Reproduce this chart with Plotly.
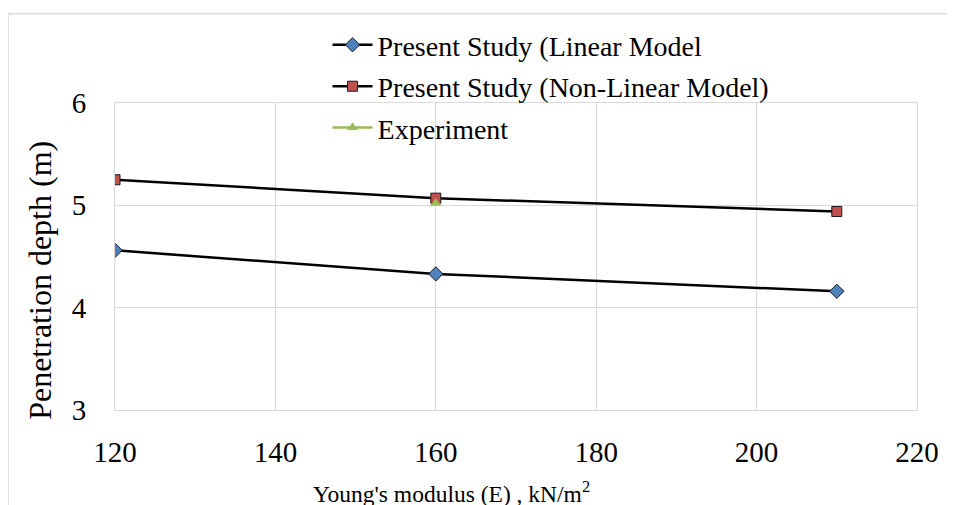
import plotly.graph_objects as go

E_values = [120, 160, 210]
linear_depth = [4.56, 4.33, 4.16]
nonlinear_depth = [5.25, 5.07, 4.94]
exp_E = [160]
exp_depth = [5.02]

x_ticks = [120, 140, 160, 180, 200, 220]
y_ticks = [3, 4, 5, 6]

FONT = "Times New Roman, Liberation Serif, DejaVu Serif, serif"

fig = go.Figure()
fig.add_trace(go.Scatter(
    x=E_values, y=linear_depth, mode="lines+markers",
    name="Present Study (Linear Model", legendgroup="g1",
    line=dict(color="black", width=2.5),
    marker=dict(symbol="diamond", size=11, color="#4F81BD", line=dict(color="#1a1a1a", width=1)),
))
fig.add_trace(go.Scatter(
    x=E_values, y=nonlinear_depth, mode="lines+markers",
    name="Present Study (Non-Linear Model)", legendgroup="g2",
    line=dict(color="black", width=2.5),
    marker=dict(symbol="square", size=10, color="#C0504D", line=dict(color="#1a1a1a", width=1)),
))
fig.add_trace(go.Scatter(
    x=exp_E, y=exp_depth, mode="lines+markers",
    name="Experiment", legendgroup="g3",
    line=dict(color="#9BBB59", width=2.5),
    marker=dict(symbol="triangle-up", size=10, color="#9BBB59"),
))

fig.update_layout(
    width=955, height=505,
    margin=dict(l=107, r=46, t=93, b=103),
    paper_bgcolor="white", plot_bgcolor="white",
    font=dict(family=FONT, color="black"),
    showlegend=True,
    legend=dict(
        x=0.265, y=1.27, xanchor="left", yanchor="top",
        font=dict(family=FONT, size=28, color="black"),
        bgcolor="rgba(0,0,0,0)", borderwidth=0,
        tracegroupgap=2, itemwidth=40,
    ),
    xaxis=dict(
        range=[120, 220], tickvals=x_ticks,
        tickfont=dict(family=FONT, size=29),
        showgrid=True, gridcolor="#d9d9d9", gridwidth=1,
        showline=True, linecolor="#d9d9d9", linewidth=1, mirror=True,
        zeroline=False, ticks="", ticklabelstandoff=16,
    ),
    yaxis=dict(
        range=[3, 6], tickvals=y_ticks,
        tickfont=dict(family=FONT, size=29),
        showgrid=True, gridcolor="#d9d9d9", gridwidth=1,
        showline=True, linecolor="#d9d9d9", linewidth=1, mirror=True,
        zeroline=False, ticks="", ticklabelstandoff=22,
    ),
    annotations=[
        dict(text="Young's modulus (E) , kN/m<sup>2</sup>", xref="paper", yref="paper",
             x=0.419, y=-0.2686, xanchor="center", yanchor="middle", showarrow=False,
             font=dict(family=FONT, size=23.5, color="black")),
        dict(text="Penetration depth (m)", xref="paper", yref="paper", textangle=-90,
             x=-0.0935, y=0.4207, xanchor="center", yanchor="middle", showarrow=False,
             font=dict(family=FONT, size=32, color="black")),
    ],
    shapes=[
        dict(type="line", xref="paper", yref="paper", x0=-0.1334, x1=-0.1334, y0=-0.4, y1=1.291,
             line=dict(color="#d9d9d9", width=1.5)),
        dict(type="line", xref="paper", yref="paper", x0=-0.1334, x1=1.1, y0=1.291, y1=1.291,
             line=dict(color="#d9d9d9", width=1.5)),
    ],
)

fig.write_html("out.html")
